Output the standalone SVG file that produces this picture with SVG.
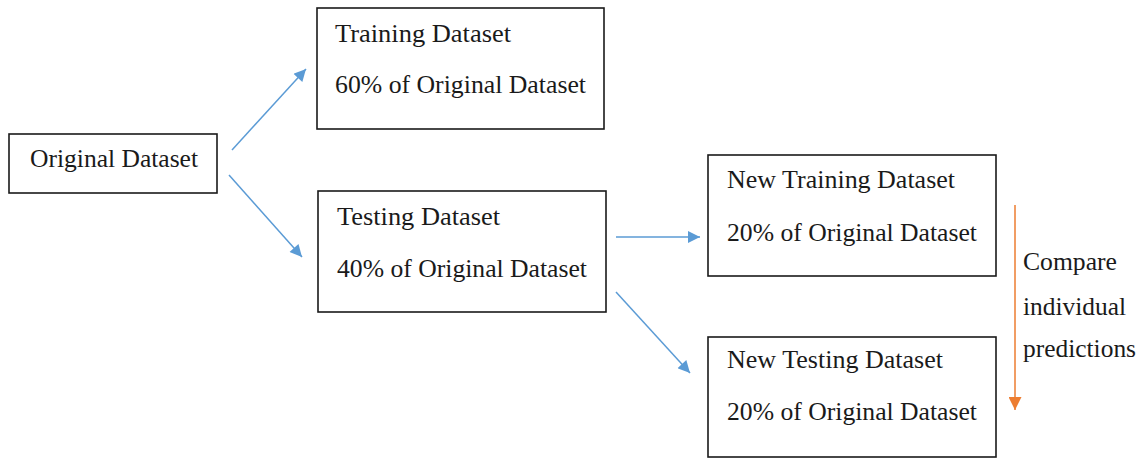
<svg xmlns="http://www.w3.org/2000/svg" width="1146" height="458" viewBox="0 0 1146 458">
<defs>
<style>
.box{fill:#fff;stroke:#1a1a1a;stroke-width:1.6}
.t{font-family:"Liberation Serif","Times New Roman",serif;font-size:25px;fill:#1a1a1a}
.c{stroke:#5b9bd5;stroke-width:1.5;fill:none}
.o{stroke:#ed7d31;stroke-width:1.5;fill:none}
</style>
<marker id="ab" viewBox="0 0 10 10" refX="10" refY="5" markerWidth="13" markerHeight="12" markerUnits="userSpaceOnUse" orient="auto"><path d="M0,0 L10,5 L0,10 z" fill="#5b9bd5"/></marker>
<marker id="ao" viewBox="0 0 10 10" refX="10" refY="5" markerWidth="13" markerHeight="13" markerUnits="userSpaceOnUse" orient="auto"><path d="M0,0 L10,5 L0,10 z" fill="#ed7d31"/></marker>
</defs>
<rect width="1146" height="458" fill="#fff"/>
<g id="original">
<rect class="box" x="9" y="134" width="208" height="59"/>
<text class="t" x="30" y="167" textLength="168" lengthAdjust="spacingAndGlyphs">Original Dataset</text>
</g>
<g id="training">
<rect class="box" x="317" y="8" width="287" height="121"/>
<text class="t" x="335" y="42" textLength="176" lengthAdjust="spacingAndGlyphs">Training Dataset</text>
<text class="t" x="335" y="93" textLength="251" lengthAdjust="spacingAndGlyphs">60% of Original Dataset</text>
</g>
<g id="testing">
<rect class="box" x="318" y="191" width="288" height="121"/>
<text class="t" x="337" y="225" textLength="163" lengthAdjust="spacingAndGlyphs">Testing Dataset</text>
<text class="t" x="337" y="277" textLength="250" lengthAdjust="spacingAndGlyphs">40% of Original Dataset</text>
</g>
<g id="newtraining">
<rect class="box" x="708" y="155" width="288" height="121"/>
<text class="t" x="727" y="188" textLength="228" lengthAdjust="spacingAndGlyphs">New Training Dataset</text>
<text class="t" x="727" y="241" textLength="250" lengthAdjust="spacingAndGlyphs">20% of Original Dataset</text>
</g>
<g id="newtesting">
<rect class="box" x="708" y="337" width="288" height="120"/>
<text class="t" x="727" y="368" textLength="216" lengthAdjust="spacingAndGlyphs">New Testing Dataset</text>
<text class="t" x="727" y="420" textLength="250" lengthAdjust="spacingAndGlyphs">20% of Original Dataset</text>
</g>
<g id="connectors">
<line class="c" x1="232" y1="150" x2="306" y2="69" marker-end="url(#ab)"/>
<line class="c" x1="229" y1="175" x2="302" y2="257" marker-end="url(#ab)"/>
<line class="c" x1="616" y1="237" x2="700" y2="237" marker-end="url(#ab)"/>
<line class="c" x1="616" y1="292" x2="690" y2="373" marker-end="url(#ab)"/>
<line class="o" x1="1015" y1="205" x2="1015" y2="410" marker-end="url(#ao)"/>
</g>
<g id="label">
<text class="t" x="1023" y="270" textLength="94" lengthAdjust="spacingAndGlyphs">Compare</text>
<text class="t" x="1023" y="315" textLength="103" lengthAdjust="spacingAndGlyphs">individual</text>
<text class="t" x="1023" y="357" textLength="113" lengthAdjust="spacingAndGlyphs">predictions</text>
</g>
</svg>
